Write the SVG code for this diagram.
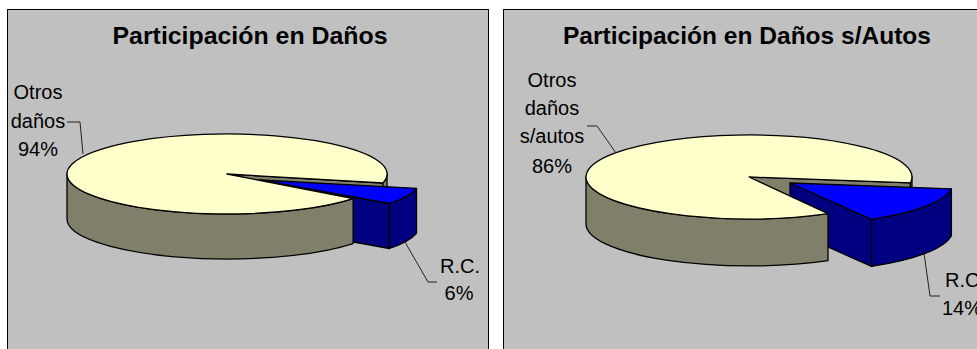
<svg xmlns="http://www.w3.org/2000/svg" width="977" height="349" viewBox="0 0 977 349">
<style>
.panel{fill:#C0C0C0;stroke:#000;stroke-width:1}
.title{font-family:"Liberation Sans",Arial,sans-serif;font-weight:bold;font-size:24px;fill:#000;text-anchor:middle}
.lbl{font-family:"Liberation Sans",Arial,sans-serif;font-size:20px;fill:#000;text-anchor:middle}
.top{fill:#FFFFCC;stroke:#000;stroke-width:1.3;stroke-linejoin:round}
.wall{fill:#80806A;stroke:#000;stroke-width:1.3;stroke-linejoin:round}
.btop{fill:#0000FF;stroke:#000;stroke-width:1.3;stroke-linejoin:round}
.bwall{fill:#000080;stroke:#000;stroke-width:1.3;stroke-linejoin:round}
.leader{fill:none;stroke:#222;stroke-width:1}
</style>
<rect class="panel" x="7.5" y="9.5" width="481" height="350"/>
<rect class="panel" x="503.5" y="9.5" width="481" height="350"/>
<text class="title" x="250" y="44" textLength="275" lengthAdjust="spacingAndGlyphs">Participación en Daños</text>
<text class="title" x="747" y="44" textLength="368" lengthAdjust="spacingAndGlyphs">Participación en Daños s/Autos</text>

<g id="pie1">
<g id="pie1-otros-back">
<path class="wall" d="M227,174 L382.9,183 L382.9,228 L227,219 Z"/>
<path class="wall" d="M387,174 A160,40 0 0,1 382.9,183 L382.9,228 A160,40 0 0,0 387,219 Z"/>
</g>
<g id="pie1-rc">
<path class="bwall" d="M260,180 L389.4,203.5 L389.4,248.5 L260,225 Z"/>
<path class="bwall" d="M416.5,188.3 A160,40 0 0,1 389.4,203.5 L389.4,248.5 A160,40 0 0,0 416.5,233.3 Z"/>
<path class="btop" d="M260,180 L416.5,188.3 A160,40 0 0,1 389.4,203.5 Z"/>
</g>
<g id="pie1-otros">
<path class="wall" d="M353.1,198.6 A160,40 0 0,1 67,174 L67,219 A160,40 0 0,0 353.1,243.6 Z"/>
<path class="top" d="M227,174 L353.1,198.6 A160,40 0 1,1 382.9,183 Z"/>
</g>
</g>

<g id="pie2">
<g id="pie2-otros-back">
<path class="wall" d="M749,177 L910.4,182.8 L910.4,229.8 L749,224 Z"/>
<path class="wall" d="M912,177 A163,42 0 0,1 910.4,182.8 L910.4,229.8 A163,42 0 0,0 912,224 Z"/>
</g>
<g id="pie2-rc">
<path class="bwall" d="M790,183 L871.5,219.4 L871.5,266.4 L790,230 Z"/>
<path class="bwall" d="M951.4,188.8 A163,42 0 0,1 871.5,219.4 L871.5,266.4 A163,42 0 0,0 951.4,235.8 Z"/>
<path class="btop" d="M790,183 L951.4,188.8 A163,42 0 0,1 871.5,219.4 Z"/>
</g>
<g id="pie2-otros">
<path class="wall" d="M828,213.7 A163,42 0 0,1 586,177 L586,224 A163,42 0 0,0 828,260.7 Z"/>
<path class="top" d="M749,177 L828,213.7 A163,42 0 1,1 910.4,182.8 Z"/>
</g>
</g>

<g id="connectors">
<polyline class="leader" points="67,122 80,122 83,154"/>
<polyline class="leader" points="405,242 428,282 437,282"/>
<polyline class="leader" points="587,126 597,126 616,153"/>
<polyline class="leader" points="924,253 930,296 940,296"/>
</g>

<g id="label-otros1">
<text class="lbl" x="38" y="99">Otros</text>
<text class="lbl" x="38" y="128">daños</text>
<text class="lbl" x="38" y="156">94%</text>
</g>
<g id="label-rc1">
<text class="lbl" x="460" y="273">R.C.</text>
<text class="lbl" x="459" y="300">6%</text>
</g>
<g id="label-otros2">
<text class="lbl" x="552" y="87">Otros</text>
<text class="lbl" x="552" y="115">daños</text>
<text class="lbl" x="552" y="143">s/autos</text>
<text class="lbl" x="552" y="173">86%</text>
</g>
<g id="label-rc2">
<text class="lbl" x="965" y="287">R.C.</text>
<text class="lbl" x="962" y="315">14%</text>
</g>
</svg>
